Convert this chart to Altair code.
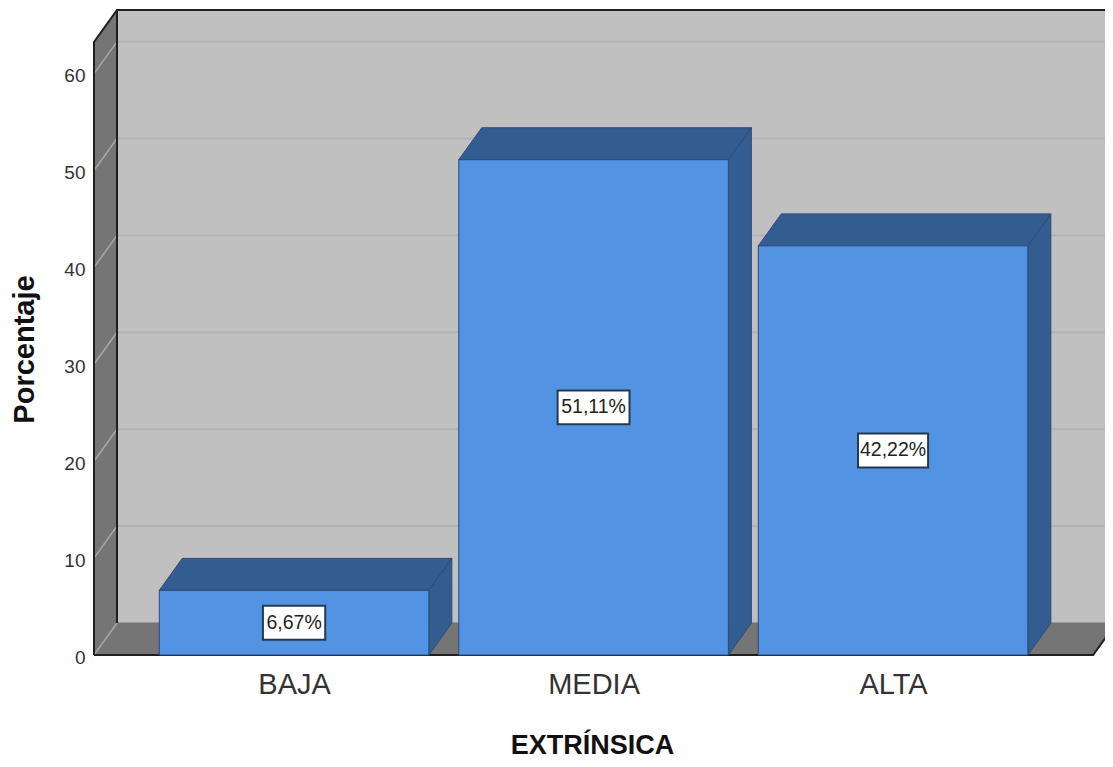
import altair as alt
import pandas as pd

categories = ["BAJA", "MEDIA", "ALTA"]
values = [6.67, 51.11, 42.22]
value_labels = ["6,67%", "51,11%", "42,22%"]
y_ticks = [0, 10, 20, 30, 40, 50, 60]
box_half_widths = [0.104, 0.120, 0.117]
box_half_height = 1.75

BAR_HALF = 0.45
DX = 23 / 299.5
DY = 3.3
X_LEFT = -0.668
X_RIGHT = 2.668
Y_TOP = 66.56
X_DOMAIN = [X_LEFT, X_LEFT + 1011 / 299.5]
WALL_FRONT_TOP = Y_TOP - DY

idx = list(range(len(categories)))
bars = pd.DataFrame({
    "i": idx, "cat": categories, "v": values, "label": value_labels,
    "x0": [i - BAR_HALF for i in idx], "x1": [i + BAR_HALF for i in idx],
    "bx0": [i - w for i, w in zip(idx, box_half_widths)],
    "bx1": [i + w for i, w in zip(idx, box_half_widths)],
    "by0": [v / 2 - box_half_height for v in values],
    "by1": [v / 2 + box_half_height for v in values],
})

def top_face(g, x0, x1, v):
    return [dict(g=g, x=x0, y=v, y2=v), dict(g=g, x=x0 + DX, y=v, y2=v + DY),
            dict(g=g, x=x1, y=v, y2=v + DY), dict(g=g, x=x1 + DX, y=v + DY, y2=v + DY)]

def side_face(g, x1, v):
    return [dict(g=g, x=x1, y=0, y2=v), dict(g=g, x=x1 + DX, y=DY, y2=v + DY)]

dark_rows = []
for i, v in zip(idx, values):
    dark_rows += top_face(f"t{i}", i - BAR_HALF, i + BAR_HALF, v)
    dark_rows += side_face(f"s{i}", i + BAR_HALF, v)
dark = pd.DataFrame(dark_rows)

wall_rows = top_face("floor", X_LEFT, X_RIGHT, 0) + [
    dict(g="left", x=X_LEFT, y=0, y2=WALL_FRONT_TOP),
    dict(g="left", x=X_LEFT + DX, y=DY, y2=Y_TOP),
]
walls = pd.DataFrame(wall_rows)

x_enc = alt.X("x:Q", scale=alt.Scale(domain=X_DOMAIN, nice=False, zero=False), axis=alt.Axis(
    values=idx, labelExpr=f"{categories}[datum.value]", title="EXTRÍNSICA", grid=False, ticks=False, domain=False,
    labelFont="Liberation Sans", labelFontSize=29, labelColor="#333333", labelPadding=15,
    labelFlush=False, labelOverlap=False,
    titleFont="Liberation Sans", titleFontSize=27, titleFontWeight="bold", titleColor="#111111",
    titleX=498, titleY=90, titleBaseline="middle", titleAnchor="middle"))
y_enc = alt.Y("y:Q", scale=alt.Scale(domain=[0, Y_TOP], nice=False, zero=False), axis=alt.Axis(
    values=y_ticks, title="Porcentaje", grid=False, ticks=False, domain=False,
    labelFont="Liberation Sans", labelFontSize=19, labelColor="#333333", labelPadding=9, labelOffset=2,
    labelFlush=False, labelOverlap=False,
    titleFont="Liberation Sans", titleFontSize=29, titleFontWeight="bold", titleColor="#111111",
    titleX=-70, titleY=339, titleBaseline="middle", titleAnchor="middle"))

back = alt.Chart(pd.DataFrame({"x": [X_LEFT + DX], "x2": [X_DOMAIN[1]], "y": [DY], "y2": [Y_TOP]})).mark_rect(
    color="#c0c0c0").encode(x=x_enc, x2="x2:Q", y=y_enc, y2="y2:Q")
wall_layer = alt.Chart(walls).mark_area(color="#757575", orient="vertical").encode(
    x="x:Q", y="y:Q", y2="y2:Q", detail="g:N")

grid_rows = []
for t in y_ticks[1:]:
    grid_rows += [dict(g=f"b{t}", x=X_LEFT + DX, y=t + DY), dict(g=f"b{t}", x=X_DOMAIN[1], y=t + DY)]
grid_layer = alt.Chart(pd.DataFrame(grid_rows)).mark_line(color="#b2b2b2", strokeWidth=2).encode(
    x="x:Q", y="y:Q", detail="g:N")

floor_back = alt.Chart(pd.DataFrame([dict(g="fb", x=X_LEFT + DX, y=DY), dict(g="fb", x=X_DOMAIN[1], y=DY)])).mark_line(
    color="#9a9a9a", strokeWidth=2).encode(x="x:Q", y="y:Q", detail="g:N")

diag_rows = []
for t in y_ticks:
    diag_rows += [dict(g=f"d{t}", x=X_LEFT, y=t), dict(g=f"d{t}", x=X_LEFT + DX, y=t + DY)]
diag_layer = alt.Chart(pd.DataFrame(diag_rows)).mark_line(color="#a8a8a8", strokeWidth=1.5).encode(
    x="x:Q", y="y:Q", detail="g:N")

edge_rows = [
    dict(g="e1", o=0, x=X_LEFT, y=0), dict(g="e1", o=1, x=X_LEFT, y=WALL_FRONT_TOP),
    dict(g="e1", o=2, x=X_LEFT + DX, y=Y_TOP), dict(g="e1", o=3, x=X_DOMAIN[1], y=Y_TOP),
    dict(g="e2", o=0, x=X_LEFT + DX, y=DY), dict(g="e2", o=1, x=X_LEFT + DX, y=Y_TOP),
    dict(g="e3", o=0, x=X_LEFT, y=0), dict(g="e3", o=1, x=X_RIGHT, y=0), dict(g="e3", o=2, x=X_RIGHT + DX, y=DY),
]
edge_layer = alt.Chart(pd.DataFrame(edge_rows)).mark_line(color="#1f1f1f", strokeWidth=2).encode(
    x="x:Q", y="y:Q", detail="g:N", order="o:Q")

dark_layer = alt.Chart(dark).mark_area(color="#335c91", stroke="#2a4c78", strokeWidth=1, orient="vertical").encode(
    x="x:Q", y="y:Q", y2="y2:Q", detail="g:N")

base_bars = alt.Chart(bars)
front = base_bars.mark_rect(color="#5294e3", stroke="#2a4c78", strokeWidth=1).encode(
    x=alt.X("x0:Q"), x2="x1:Q", y=alt.Y("v:Q"), y2=alt.Y2(datum=0))
box = base_bars.mark_rect(fill="white", stroke="#26384f", strokeWidth=2).encode(
    x=alt.X("bx0:Q"), x2="bx1:Q", y=alt.Y("by0:Q"), y2="by1:Q")
label = base_bars.transform_calculate(cy="datum.v / 2").mark_text(
    font="Liberation Sans", fontSize=19.5, color="#222222", baseline="middle", align="center").encode(
    x=alt.X("i:Q"), y=alt.Y("cy:Q"), text="label:N")

chart = alt.layer(back, grid_layer, floor_back, wall_layer, diag_layer, edge_layer, dark_layer, front, box, label).properties(
    width=1011, height=645, padding={"left": 86, "top": 2, "right": 0, "bottom": 104},
    autosize=alt.AutoSizeParams(type="none"), background="white",
).configure_view(stroke=None)

chart.save("out.html", embed_options={"renderer": "svg", "actions": False})
